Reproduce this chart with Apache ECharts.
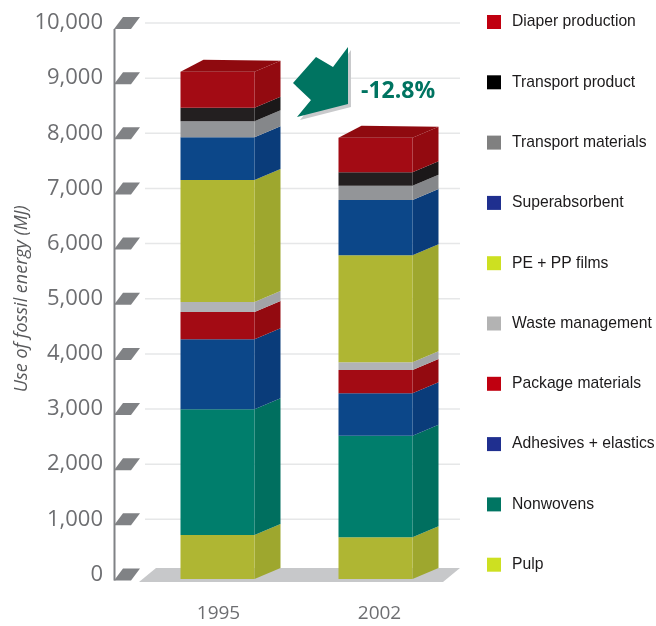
<!DOCTYPE html>
<html>
<head>
<meta charset="utf-8">
<script src="https://cdn.jsdelivr.net/npm/echarts@6/dist/echarts.min.js"></script>
<style>
  html, body { margin: 0; padding: 0; background: #fff; }
  #chart { width: 656px; height: 626px; }
</style>
</head>
<body>
<div id="chart"></div>
<script>
// values (MJ), bottom of the stack first
const years = ['1995', '2002'];
const pulp = [798, 756];
const nonwovens = [2279, 1842];
const adhesives = [1269, 769];
const packageMaterials = [495, 423];
const wasteManagement = [182, 139];
const films = [2212, 1941];
const superabsorbent = [774, 1002];
const transportMaterials = [290, 259];
const transportProduct = [247, 243];
const diaperProduction = [652, 628];
const yTicks = [0, 1000, 2000, 3000, 4000, 5000, 6000, 7000, 8000, 9000, 10000];
const changeLabel = '-12.8%';

const layers = [
  { name: 'Pulp', values: pulp, legend: '#cde021', front: '#afb633', side: '#9ea72e' },
  { name: 'Nonwovens', values: nonwovens, legend: '#007562', front: '#007e6c', side: '#006f5f' },
  { name: 'Adhesives + elastics', values: adhesives, legend: '#1f2f8f', front: '#0c4789', side: '#0a3c7a' },
  { name: 'Package materials', values: packageMaterials, legend: '#c00010', front: '#a30b14', side: '#930a10' },
  { name: 'Waste management', values: wasteManagement, legend: '#b3b3b3', front: '#b1b3b6', side: '#a2a4a7' },
  { name: 'PE + PP films', values: films, legend: '#cde021', front: '#afb633', side: '#9ea72e' },
  { name: 'Superabsorbent', values: superabsorbent, legend: '#1f2f8f', front: '#0c4789', side: '#0a3c7a' },
  { name: 'Transport materials', values: transportMaterials, legend: '#808080', front: '#939598', side: '#85878a' },
  { name: 'Transport product', values: transportProduct, legend: '#000000', front: '#231f20', side: '#1b1819' },
  { name: 'Diaper production', values: diaperProduction, legend: '#c00010', front: '#a30b14', side: '#930a10' }
];

const dx = 26, dy = -11;

const makeBar = (front, side, isTop) => (params, api) => {
  const cat = api.value(0);
  const lo = api.coord([cat, api.value(1)]);
  const hi = api.coord([cat, api.value(2)]);
  const shift = cat === 0 ? 0 : -3;
  const x0 = lo[0] - 38 + shift, x1 = lo[0] + 36 + shift;
  const yb = lo[1] + 4.5, yt = hi[1] + 4.5;
  const children = [
    { type: 'polygon', shape: { points: [[x1, yb], [x1 + dx, yb + dy], [x1 + dx, yt + dy], [x1, yt]] }, style: { fill: side } },
    { type: 'rect', shape: { x: x0, y: yt, width: x1 - x0, height: yb - yt }, style: { fill: front } }
  ];
  if (isTop) {
    children.push({ type: 'polygon', shape: { points: [[x0, yt], [x1, yt], [x1 + dx, yt + dy], [x0 + dx - 3, yt + dy - 1]] }, style: { fill: '#8f0a0f' } });
  }
  return { type: 'group', children: children };
};

const base = years.map(() => 0);
const barSeries = layers.map((l, i) => {
  const data = years.map((y, j) => {
    const item = [j, base[j], base[j] + l.values[j]];
    base[j] += l.values[j];
    return item;
  });
  return {
    name: l.name,
    type: 'custom',
    z: 5,
    itemStyle: { color: l.legend },
    renderItem: makeBar(l.front, l.side, i === layers.length - 1),
    data: data
  };
});

// gridlines, slanted tick markers and the axis line
const tickSeries = {
  type: 'custom',
  z: 1,
  silent: true,
  data: yTicks.map(v => [0, v]),
  renderItem: (params, api) => {
    const cs = params.coordSys;
    const y = api.coord([0, api.value(1)])[1];
    const ax = cs.x - 24;
    const children = [];
    if (api.value(1) > 0) {
      children.push({ type: 'line', shape: { x1: cs.x + 7, y1: y, x2: cs.x + cs.width, y2: y }, style: { stroke: '#e6e7e8', lineWidth: 1.5 } });
    }
    children.push({ type: 'polygon', shape: { points: [[ax, y + 6], [ax + 17, y + 6], [ax + 26, y - 6], [ax + 9, y - 6]] }, style: { fill: '#808285' } });
    if (params.dataIndex === 0) {
      const yTop = api.coord([0, yTicks[yTicks.length - 1]])[1];
      children.push({ type: 'line', shape: { x1: ax + 0.5, y1: yTop + 6, x2: ax + 0.5, y2: y + 6 }, style: { stroke: '#808285', lineWidth: 2 } });
    }
    return { type: 'group', children: children };
  }
};

// grey floor under the bars
const floorSeries = {
  type: 'custom',
  z: 2,
  silent: true,
  data: [[0, 0]],
  renderItem: (params, api) => {
    const cs = params.coordSys;
    const y = api.coord([0, 0])[1];
    return {
      type: 'polygon',
      shape: { points: [[cs.x + 1, y + 7.5], [cs.x + cs.width - 17, y + 7.5], [cs.x + cs.width, y - 6.5], [cs.x + 18, y - 6.5]] },
      style: { fill: '#c7c8ca' }
    };
  }
};

const chart = echarts.init(document.getElementById('chart'));
const option = {
  animation: false,
  grid: { left: 138, right: 196, top: 23, bottom: 51.5 },
  legend: {
    orient: 'vertical',
    left: 482,
    top: 9,
    itemWidth: 14,
    itemHeight: 14,
    itemGap: 44.3,
    selectedMode: false,
    icon: 'rect',
    data: layers.map(l => l.name).reverse(),
    textStyle: { fontFamily: 'Liberation Sans, Arial, sans-serif', fontSize: 15.7, color: '#1c1a1b', lineHeight: 16, padding: [0, 0, 0, 6] }
  },
  xAxis: {
    type: 'category',
    data: years,
    axisLine: { show: false },
    axisTick: { show: false },
    axisLabel: { margin: 30, fontFamily: 'Open Sans', fontSize: 19, color: '#6d6e71' }
  },
  yAxis: {
    type: 'value',
    min: 0,
    max: 10000,
    interval: 1000,
    name: 'Use of fossil energy (MJ)',
    nameLocation: 'middle',
    nameGap: 106,
    nameTextStyle: { fontFamily: 'Open Sans', fontStyle: 'italic', fontSize: 18, color: '#58595b' },
    axisLine: { show: false },
    axisTick: { show: false },
    splitLine: { show: false },
    axisLabel: {
      margin: 35,
      fontFamily: 'Open Sans',
      fontSize: 22,
      color: '#6d6e71',
      formatter: v => v.toLocaleString('en-US')
    }
  },
  graphic: [
    {
      type: 'polygon',
      z: 10,
      shape: { points: [[351, 50], [351, 107], [300, 120], [314, 103], [296, 86], [319, 60], [336, 70]] },
      style: { fill: '#c9cacc' }
    },
    {
      type: 'polygon',
      z: 11,
      shape: { points: [[348, 47], [348, 104], [297, 117], [311, 100], [293, 83], [316, 57], [333, 67]] },
      style: { fill: '#007461' }
    },
    {
      type: 'text',
      z: 11,
      left: 361,
      top: 80,
      style: { text: changeLabel, fontFamily: 'Open Sans', fontWeight: 'bold', fontSize: 23, fill: '#007461' }
    }
  ],
  series: [tickSeries, floorSeries].concat(barSeries)
};
chart.setOption(option);
</script>
</body>
</html>
